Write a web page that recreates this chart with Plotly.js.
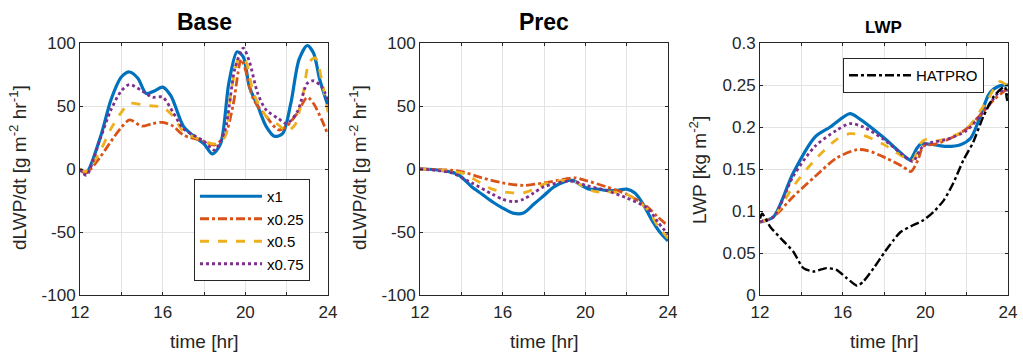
<!DOCTYPE html>
<html><head><meta charset="utf-8">
<script src="https://cdn.plot.ly/plotly-3.0.1.min.js"></script>
<style>html,body{margin:0;padding:0;background:#fff}#c{width:1023px;height:354px}</style>
</head><body><div id="c"></div>
<script>
// ---- Data ----
const seriesNames = ["x1", "x0.25", "x0.5", "x0.75"];
const xTickVals = [12, 14, 16, 18, 20, 22, 24];
const xTickText = ["12", "", "16", "", "20", "", "24"];
const dTicks = [-100, -50, 0, 50, 100];
const dTickText = ["-100", "-50", "0", "50", "100"];
const lwpTicks = [0, 0.05, 0.1, 0.15, 0.2, 0.25, 0.3];
const lwpTickText = ["0", "0.05", "0.1", "0.15", "0.2", "0.25", "0.3"];
const panelTitles = ["Base", "Prec", "LWP"];
const xTitle = "time [hr]";
const dTitle = "dLWP/dt [g m<sup>-2</sup> hr<sup>-1</sup>]";
const lwpTitle = "LWP [kg m<sup>-2</sup>]";

// Base panel (dLWP/dt)
const baseX1_t = [12,12.3,13,13.5,14,14.4,14.8,15.2,15.6,16,16.4,17,17.5,18,18.4,18.8,19.2,19.6,19.9,20.2,20.6,21,21.4,21.8,22.2,22.6,23,23.3,23.6,24];
const baseX1_v = [0,-3,26,55,73,77,72,60,62,65,58,34,26,20,12,20,68,93,89,65,50,34,26,28,52,87,98,92,71,50];
const base025_t = [12,12.3,13,13.5,14,14.4,15,15.5,16,16.5,17,18,18.5,19,19.4,19.8,20,20.4,21,21.6,22,22.5,23,23.3,23.7,24];
const base025_v = [0,-3,10,22,33,39,34,36,37,34,27,22,19,26,50,87,79,55,42,31,34,44,57,52,39,27];
const base05_t = [12,12.3,13,13.5,14,14.4,15,15.5,16,16.5,17,18,18.5,19,19.3,19.7,20,20.4,21,21.6,22,22.4,22.8,23.1,23.4,23.7,24];
const base05_v = [0,-2,15,32,45,52,51,50,49,42,30,22,20,25,60,88,86,60,42,35,30,35,60,85,88,70,45];
const base075_t = [12,12.3,13,13.5,14,14.4,15,15.5,16,16.5,17,18,18.5,19,19.5,19.9,20.2,20.6,21,21.6,22,22.5,23,23.3,23.7,24];
const base075_v = [0,-5,25,47,62,67,62,57,57,45,32,22,15,30,80,96,85,60,47,40,36,45,68,70,65,55];

// Prec panel (dLWP/dt)
const precX1_t = [12,13,13.8,14.5,15,15.5,16,16.5,17,17.5,18,18.5,19,19.4,19.8,20.2,20.6,21,21.5,22,22.4,22.8,23.2,23.6,24];
const precX1_v = [0,-1,-4,-14,-20,-26,-31,-35,-35,-28,-21,-14,-10,-9,-13,-16,-16,-17,-17,-16,-19,-28,-40,-50,-57];
const prec025_t = [12,13.5,14,15,16,17,18,19,19.5,20,21,22,23,23.5,24];
const prec025_v = [0,-1,-2,-7,-11,-13,-11,-8,-7,-9,-14,-20,-30,-38,-45];
const prec05_t = [12,14,14.5,15.5,16,16.5,17,17.5,18,19,19.5,20,20.5,21,22,23,23.5,24];
const prec05_v = [0,-3,-7,-16,-18,-19,-19,-16,-12,-9,-10,-15,-18,-18,-20,-32,-45,-55];
const prec075_t = [12,13.5,14.5,15.5,16,16.5,17,17.5,18,19,19.5,20,21,22,23,23.5,24];
const prec075_v = [0,-3,-11,-20,-24,-26,-24,-19,-14,-10,-10,-13,-17,-23,-31,-42,-52];

// LWP panel
const lwpX1_t = [12,12.65,13.6,14.66,15.4,16.35,16.8,17.95,19.1,19.26,19.6,19.8,20.4,21,21.7,22.2,22.65,23.1,23.6,24];
const lwpX1_v = [0.087,0.093,0.145,0.188,0.2,0.216,0.21,0.188,0.163,0.161,0.175,0.18,0.179,0.177,0.179,0.187,0.212,0.24,0.249,0.25];
const lwp025_t = [12,12.65,13.6,14.66,15.7,16.7,17.2,18.1,18.9,19.3,19.65,19.9,20.55,21.35,22,22.65,23.3,24];
const lwp025_v = [0.087,0.093,0.117,0.141,0.163,0.173,0.172,0.163,0.153,0.147,0.161,0.177,0.18,0.188,0.198,0.214,0.232,0.246];
const lwp05_t = [12,12.65,13.6,14.66,15.7,16.35,17,18,18.9,19.4,19.75,20,20.4,21,22,23,23.6,24];
const lwp05_v = [0.087,0.093,0.129,0.161,0.185,0.192,0.19,0.179,0.165,0.161,0.18,0.185,0.183,0.186,0.198,0.232,0.254,0.248];
const lwp075_t = [12,12.65,13.6,14.66,15.7,16.35,17,18,18.9,19.4,19.75,20.05,21,22,23,23.6,24];
const lwp075_v = [0.087,0.093,0.141,0.177,0.196,0.204,0.2,0.185,0.167,0.159,0.173,0.18,0.185,0.196,0.224,0.242,0.244];
const hatpro_t = [12,12.1,12.5,13.1,13.6,14.1,14.6,15.2,15.7,16.2,16.7,17,17.5,18,18.45,18.8,19.4,19.9,20.4,20.9,21.35,21.85,22.3,22.8,23.3,23.6,23.85,23.95,24];
const hatpro_v = [0.091,0.097,0.081,0.065,0.052,0.032,0.028,0.032,0.03,0.02,0.011,0.016,0.032,0.05,0.065,0.075,0.083,0.089,0.099,0.113,0.133,0.161,0.181,0.212,0.236,0.244,0.248,0.232,0.24];

// ---- Styles ----
const colors = ["#0072BD", "#D95319", "#EDB120", "#7E2F8E"];
const dashes = ["solid", "dashdot", "dash", "dot"];
const widths = [3.2, 2.8, 2.8, 2.8];
const FAM = "Liberation Sans, Arial, sans-serif";

function mk(t, v, i, ax, show) {
  return {x: t, y: v, type: "scatter", mode: "lines", name: seriesNames[i],
    xaxis: "x" + ax, yaxis: "y" + ax, showlegend: show, legend: "legend",
    line: {color: colors[i], dash: dashes[i], width: widths[i], shape: "spline", smoothing: 0.8}};
}
const traces = [
  mk(baseX1_t, baseX1_v, 0, "", true), mk(base025_t, base025_v, 1, "", true),
  mk(base05_t, base05_v, 2, "", true), mk(base075_t, base075_v, 3, "", true),
  mk(precX1_t, precX1_v, 0, "2", false), mk(prec025_t, prec025_v, 1, "2", false),
  mk(prec05_t, prec05_v, 2, "2", false), mk(prec075_t, prec075_v, 3, "2", false),
  mk(lwpX1_t, lwpX1_v, 0, "3", false), mk(lwp025_t, lwp025_v, 1, "3", false),
  mk(lwp05_t, lwp05_v, 2, "3", false), mk(lwp075_t, lwp075_v, 3, "3", false),
  {x: hatpro_t, y: hatpro_v, type: "scatter", mode: "lines", name: "HATPRO",
   xaxis: "x3", yaxis: "y3", legend: "legend2",
   line: {color: "#000000", dash: "dashdot", width: 2.4, shape: "spline", smoothing: 0.6}}
];

const W = 1023, H = 354;
const plotTop = 43, plotBot = 295;
const yd = [1 - plotBot / H, 1 - plotTop / H];
const tickFont = {family: FAM, size: 17, color: "#262626"};
const titleFont = {family: FAM, size: 19, color: "#262626"};

function xax(l, r, anchor) {
  return {domain: [l / W, r / W], range: [12, 24], tickvals: xTickVals, ticktext: xTickText,
    showgrid: true, gridcolor: "#e3e3e3", zeroline: false, showline: true, mirror: "ticks",
    linecolor: "#262626", linewidth: 1, ticks: "inside", ticklen: 3, tickcolor: "#262626",
    tickfont: tickFont, anchor: anchor, ticklabelstandoff: 2};
}
function yax(vals, txt, range, anchor) {
  return {domain: yd, range: range, tickvals: vals, ticktext: txt, anchor: anchor,
    showgrid: true, gridcolor: "#e3e3e3", zeroline: false, showline: true, mirror: "ticks",
    linecolor: "#262626", linewidth: 1, ticks: "inside", ticklen: 3, tickcolor: "#262626",
    tickfont: tickFont};
}
function ann(text, x, y, font, angle) {
  return {text: text, x: x / W, y: 1 - y / H, xref: "paper", yref: "paper", showarrow: false,
    xanchor: "center", yanchor: "middle", font: font, textangle: angle || 0};
}
const pTitleFont = {size: 23, color: "#000", family: FAM};

const layout = {
  width: W, height: H, margin: {l: 0, r: 0, t: 0, b: 0},
  paper_bgcolor: "#fff", plot_bgcolor: "#fff",
  font: {family: FAM, color: "#262626"},
  xaxis: xax(80, 328, "y"), yaxis: yax(dTicks, dTickText, [-100, 100], "x"),
  xaxis2: xax(420, 668, "y2"), yaxis2: yax(dTicks, dTickText, [-100, 100], "x2"),
  xaxis3: xax(760, 1008, "y3"), yaxis3: yax(lwpTicks, lwpTickText, [0, 0.3], "x3"),
  legend: {x: 194 / W, y: 1 - 179 / H, xanchor: "left", yanchor: "top", bgcolor: "#fff",
    bordercolor: "#262626", borderwidth: 1, font: {size: 15, color: "#000", family: FAM}, itemwidth: 62,
    tracegroupgap: 0},
  legend2: {x: 843 / W, y: 1 - 58 / H, xanchor: "left", yanchor: "top", bgcolor: "#fff",
    bordercolor: "#262626", borderwidth: 1, font: {size: 15, color: "#000", family: FAM}, itemwidth: 62},
  annotations: [
    ann("<b>" + panelTitles[0] + "</b>", 204, 22, pTitleFont),
    ann("<b>" + panelTitles[1] + "</b>", 544, 22, pTitleFont),
    ann("<b>" + panelTitles[2] + "</b>", 883, 27, {size: 17, color: "#000", family: FAM}),
    ann(xTitle, 204, 341, titleFont), ann(xTitle, 544, 341, titleFont), ann(xTitle, 884, 341, titleFont),
    ann(dTitle, 18, 168, titleFont, -90), ann(dTitle, 358, 168, titleFont, -90),
    ann(lwpTitle, 698, 170, titleFont, -90)
  ]
};
Plotly.newPlot("c", traces, layout, {displayModeBar: false, staticPlot: true});
</script></body></html>
